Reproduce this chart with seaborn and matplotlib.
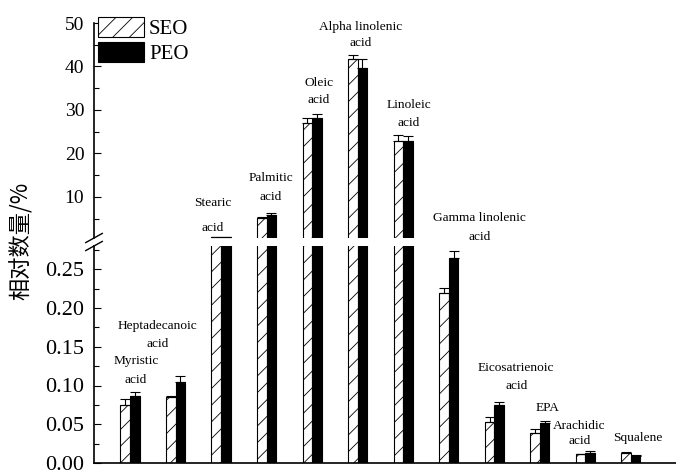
import matplotlib
matplotlib.use("Agg")
import matplotlib.pyplot as plt
import seaborn as sns
import pandas as pd
import numpy as np
from matplotlib.patches import Patch
from matplotlib.lines import Line2D
from matplotlib import transforms
from matplotlib.ticker import MultipleLocator, FormatStrFormatter

# Relative content (%) of fatty acids and squalene in the two oils
categories = ["Myristic acid", "Heptadecanoic acid", "Stearic acid", "Palmitic acid",
              "Oleic acid", "Alpha linolenic acid", "Linoleic acid",
              "Gamma linolenic acid", "Eicosatrienoic acid", "EPA",
              "Arachidic acid", "Squalene"]
seo = [0.075, 0.085, 0.85, 5.2, 27.0, 41.7, 22.9, 0.219, 0.053, 0.039, 0.012, 0.013]
peo = [0.087, 0.104, 0.85, 5.8, 28.1, 39.6, 22.9, 0.264, 0.075, 0.052, 0.0125, 0.009]
seo_err = [0.008, 0.002, 0.0, 0.1, 1.2, 1.0, 1.4, 0.007, 0.0065, 0.005, 0.0, 0.001]
peo_err = [0.004, 0.008, 0.0, 0.4, 1.0, 2.1, 1.1, 0.009, 0.0035, 0.002, 0.003, 0.0017]
series = ["SEO", "PEO"]

# Annotation placement: horizontal shift (category units), first-line
# height and line gap (pixels from the top of the figure)
label_dx = [0.13, -0.40, -0.19, 0.09, 0.15, 0.07, 0.12, 0.68, 0.48, 0.18, -0.13, 0.15]
label_y = [361, 326, 203, 178, 83, 27, 105, 218, 368, 408, 426, 438]
label_gap = [19, 18, 25, 19, 17, 16, 18, 19, 18, 0, 15, 0]

sns.set_theme(style="ticks")
plt.rcParams["font.family"] = ["Liberation Serif", "DejaVu Serif"]
plt.rcParams["hatch.linewidth"] = 0.6
plt.rcParams["axes.edgecolor"] = "black"
plt.rcParams["xtick.color"] = "black"
plt.rcParams["ytick.color"] = "black"
plt.rcParams["text.color"] = "black"

W, H = 676, 471
fig = plt.figure(figsize=(W / 100, H / 100), dpi=100)
left = 94 / W
ax_top = fig.add_axes([left, 1 - 238 / H, 1 - left, (238 - 23) / H])
ax_bot = fig.add_axes([left, 1 - 463 / H, 1 - left, (463 - 246) / H])
top_ylim = (0.55, 50)
bot_ylim = (0, 0.28)

n = len(categories)
df = pd.DataFrame({
    "category": categories * 2,
    "series": [series[0]] * n + [series[1]] * n,
    "value": seo + peo,
})

for ax, ylim in ((ax_top, top_ylim), (ax_bot, bot_ylim)):
    sns.barplot(data=df, x="category", y="value", hue="series", hue_order=series,
                palette={"SEO": "white", "PEO": "black"}, saturation=1,
                width=0.42, edgecolor="black", linewidth=0.8, errorbar=None,
                legend=False, ax=ax)
    seo_bars, peo_bars = ax.containers[0], ax.containers[1]
    for p in seo_bars:
        p.set_hatch("//")
    for cont, err in ((seo_bars, seo_err), (peo_bars, peo_err)):
        xs, ys, es = [], [], []
        for p, e in zip(cont, err):
            h = p.get_height()
            # only bars that actually reach into this panel get whiskers
            if h + e > ylim[0]:
                xs.append(p.get_x() + p.get_width() / 2)
                ys.append(h)
                es.append(e)
        ax.errorbar(xs, ys, yerr=[np.zeros(len(es)), es], fmt="none", ecolor="black",
                    elinewidth=0.8, capsize=3.3, capthick=0.8)
    ax.set_ylim(*ylim)
    ax.set_xlim(-0.79, 11.99)
    ax.set_xticks([])
    ax.set_xlabel("")
    ax.set_ylabel("")
    ax.tick_params(axis="y", which="major", direction="in", length=5, width=0.8, pad=7)
    ax.tick_params(axis="y", which="minor", direction="in", length=3.5, width=0.8)
    for s in ("top", "right"):
        ax.spines[s].set_visible(False)
    ax.spines["left"].set_linewidth(1.2)
    ax.spines["bottom"].set_linewidth(1.2)

# Upper panel: major components
ax_top.spines["bottom"].set_visible(False)
ax_top.yaxis.set_major_locator(MultipleLocator(10))
ax_top.yaxis.set_minor_locator(MultipleLocator(5))
ax_top.tick_params(axis="y", labelsize=14)

# Lower panel: trace components
ax_bot.yaxis.set_major_locator(MultipleLocator(0.05))
ax_bot.yaxis.set_minor_locator(MultipleLocator(0.025))
ax_bot.yaxis.set_major_formatter(FormatStrFormatter("%.2f"))
ax_bot.tick_params(axis="y", labelsize=16)

# Axis break marks on the left spine
x0 = ax_top.get_position().x0
for yc in (ax_top.get_position().y0, ax_bot.get_position().y1):
    fig.add_artist(Line2D([x0 - 8.5 / W, x0 + 8.5 / W], [yc - 4.7 / H, yc + 4.7 / H],
                          transform=fig.transFigure, color="black", lw=1.0))

# Category annotations
blend = transforms.blended_transform_factory(ax_bot.transData, fig.transFigure)
for i, name in enumerate(categories):
    lines = name.rsplit(" ", 1) if name.endswith(" acid") else [name]
    for k, line in enumerate(lines):
        ypx = label_y[i] + k * label_gap[i]
        ax_bot.text(i + label_dx[i], 1 - ypx / H, line, transform=blend,
                    ha="center", va="center", fontsize=9.6, clip_on=False)

fig.text(21 / W, 1 - 241 / H, "相对数量/%", rotation=90, ha="center", va="center",
         fontsize=16, family=["Noto Sans CJK SC", "DejaVu Sans"])

handles = [Patch(facecolor="white", edgecolor="black", hatch="//", lw=0.8, label="SEO"),
           Patch(facecolor="black", edgecolor="black", lw=0.8, label="PEO")]
fig.legend(handles=handles, loc="upper left", bbox_to_anchor=(98 / W, 1 - 17 / H),
           frameon=False, fontsize=15, handlelength=2.2, handleheight=1.1,
           handletextpad=0.25, labelspacing=0.15, borderpad=0, borderaxespad=0)

fig.savefig("out.png", dpi=100)
